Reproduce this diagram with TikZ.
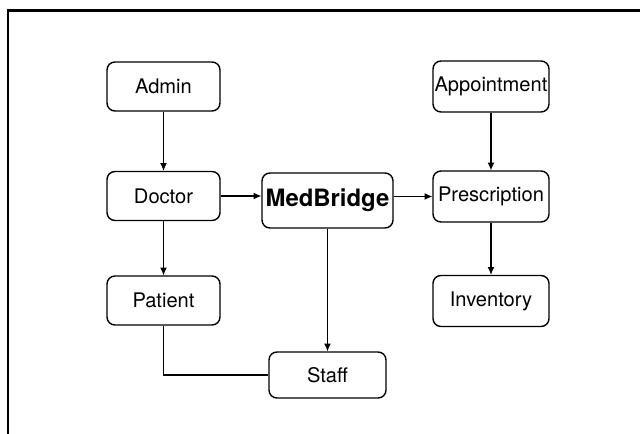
\documentclass[tikz,border=0pt]{standalone}
\usepackage{fontspec}
\setmainfont{TeX Gyre Heros}
\usetikzlibrary{shapes,arrows.meta,positioning}
\tikzstyle{entity} = [draw,line width=1pt,rectangle,rounded corners=.2cm,inner sep=0,minimum width=2.825cm,minimum height=1.225cm,font=\fontsize{14.3}{17}\selectfont]
\tikzstyle{wide} = [minimum width=2.9cm,minimum height=1.275cm]
\tikzstyle{link} = [-{Latex[length=1.9mm,width=1.7mm]},line width=.75pt]
\def \px {0.025cm}

\begin{document}
\begin{tikzpicture}[x=\px,y=-\px]
      \useasboundingbox (0,0) rectangle (640,434);
      \draw[line width=1.6pt] (8,434) -- (8,10.5) -- (640,10.5);
      % left column
      \node[entity] (admin) at (163.5,86.5) {Admin};
      \node[entity] (doctor) at (163.5,196) {Doctor};
      \node[entity] (patient) at (163.5,300.5) {Patient};
      % middle
      \node[entity,minimum width=3.275cm,minimum height=1.375cm,font=\fontsize{17}{20}\selectfont\bfseries] (medbridge) at (327.5,200.5) {MedBridge};
      \node[entity,minimum width=2.925cm,minimum height=1.15cm] (staff) at (327.5,375) {Staff};
      % right column
      \node[entity,wide] (appointment) at (491,86.5) {Appointment};
      \node[entity,wide] (prescription) at (491,196.5) {Prescription};
      \node[entity,wide] (inventory) at (491,301) {Inventory};
      \draw[link] (admin) -- (doctor);
      \draw[link] (doctor) -- (patient);
      \draw[link] (doctor.east) -- (doctor.east -| medbridge.west);
      \draw[link] (medbridge.east |- prescription.west) -- (prescription.west);
      \draw[link] (medbridge) -- (staff);
      \draw[line width=.75pt] (patient.south) |- (staff.west);
      \draw[link] (appointment) -- (prescription);
      \draw[link] (prescription) -- (inventory);
    \end{tikzpicture}
\end{document}
